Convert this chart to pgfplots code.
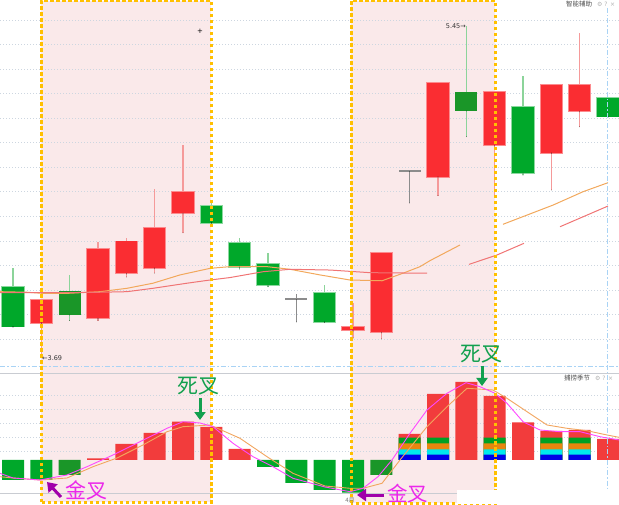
\documentclass[border=0pt]{standalone}
\usepackage{pgfplots}
\pgfplotsset{compat=1.18}
\usepackage{pgfplotstable}
\usepackage{fontspec}
\newfontfamily\cjk{Noto Sans CJK SC}
\newfontfamily\dv{DejaVu Sans}
\usetikzlibrary{arrows.meta}
\definecolor{candred}{HTML}{FA2D32}
\definecolor{wickred}{HTML}{F59A9A}
\definecolor{candgreen}{HTML}{00A82A}
\definecolor{candgreendk}{HTML}{1A9628}
\definecolor{wickgreen}{HTML}{8CD49A}
\definecolor{dojigray}{HTML}{8C8C8C}
\definecolor{pinkbg}{HTML}{FAE9EA}
\definecolor{bordc}{HTML}{FFC000}
\definecolor{gridc}{HTML}{CDD6E0}
\definecolor{maor}{HTML}{F2A85C}
\definecolor{mared}{HTML}{F07474}
\definecolor{barred}{HTML}{F23C3C}
\definecolor{bandgreen}{HTML}{00A024}
\definecolor{bandorange}{HTML}{E8860E}
\definecolor{bandcyan}{HTML}{00E8EC}
\definecolor{bandblue}{HTML}{0000E6}
\definecolor{linemag}{HTML}{FF48FF}
\definecolor{lineor}{HTML}{F2A55E}
\definecolor{crossgreen}{HTML}{12A04E}
\definecolor{crossmag}{HTML}{EB28EB}
\definecolor{arrowpurple}{HTML}{A000AA}
\definecolor{paneline}{HTML}{A9D3F5}
\definecolor{panegray}{HTML}{C9CCD2}

\pgfplotsset{
  candle/.style 2 args={only marks, mark=*, mark size=0.01pt, mark options={draw=none, fill=none},
    error bars/.cd, y dir=plus, y explicit, error mark=none,
    error bar style={line width=#1, draw=#2}},
}

% candles: i open high low close
\pgfplotstableread{
i o h l c
2 3.872 3.993 3.69 3.993
4 3.897 4.303 3.883 4.264
5 4.136 4.322 4.115 4.303
6 4.164 4.582 4.136 4.375
7 4.455 4.816 4.349 4.567
13 3.833 3.978 3.791 3.851
14 3.823 4.242 3.786 4.242
16 4.648 5.147 4.547 5.147
18 4.816 5.098 4.54 5.098
20 4.775 5.135 4.577 5.135
21 4.997 5.411 4.913 5.135
}\redc
\pgfplotstableread{
i o h l c
1 4.063 4.164 3.851 3.851
8 4.494 4.52 4.403 4.403
9 4.296 4.322 4.157 4.168
10 4.184 4.242 4.063 4.072
12 4.032 4.072 3.876 3.876
19 5.018 5.184 4.656 4.667
22 5.066 5.066 4.967 4.967
}\greenc
\pgfplotstableread{
i o h l c
3 4.042 4.126 3.883 3.913
17 5.098 5.45 4.860 4.997
}\greendkc
\pgfplotstableread{
i o h l c
11 3.998 4.025 3.876 3.998
15 4.678 4.678 4.508 4.678
}\dojic

% lower panel bars
\pgfplotstableread{
i v
1 -0.20
2 -0.20
10 -0.07
11 -0.23
12 -0.30
13 -0.327
}\bgreen
\pgfplotstableread{
i v
3 -0.15
14 -0.15
}\bgreendk
\pgfplotstableread{
i v
4 0.015
5 0.16
6 0.27
7 0.383
8 0.33
9 0.11
15 0.26
16 0.66
17 0.78
18 0.64
19 0.377
20 0.29
21 0.30
22 0.21
}\bred
\pgfplotstableread{
i g o c b
15 0.223 0.167 0.107 0.053
16 0.223 0.167 0.107 0.053
18 0.223 0.167 0.107 0.053
20 0.223 0.167 0.107 0.053
21 0.223 0.167 0.107 0.053
}\bands

\begin{document}
\begin{tikzpicture}
\useasboundingbox (0pt,0pt) rectangle (619pt,504pt);
% highlighted periods (background)
\fill[pinkbg] (41pt,2pt) rectangle (211pt,503pt);
\fill[pinkbg] (351pt,1pt) rectangle (495pt,503pt);

% ---------------- upper panel ----------------
\begin{axis}[at={(0pt,137pt)}, anchor=south west, scale only axis,
  width=619pt, height=367pt,
  xmin=0.5412, xmax=22.388, ymin=3.6369, ymax=5.5865,
  axis line style={draw=none}, xtick=\empty,
  ytick={3.7848,3.9152,4.0456,4.1761,4.3065,4.4369,4.5673,4.6977,4.8281,4.9586,5.0890,5.2194,5.3498,5.4802},
  yticklabels={}, major tick length=0pt, ymajorgrids,
  grid style={gridc, line width=0.9pt, dash pattern=on 1pt off 2pt}]
% wicks
\addplot[candle={1.3pt}{wickred}]
  table[x=i, y=l, y error expr={\thisrow{h}-\thisrow{l}}] {\redc};
\addplot[candle={1.3pt}{wickgreen}]
  table[x=i, y=l, y error expr={\thisrow{h}-\thisrow{l}}] {\greenc};
\addplot[candle={1.3pt}{wickgreen}]
  table[x=i, y=l, y error expr={\thisrow{h}-\thisrow{l}}] {\greendkc};
\addplot[candle={1.3pt}{dojigray}]
  table[x=i, y=l, y error expr={\thisrow{h}-\thisrow{l}}] {\dojic};
% body outlines
\addplot[candle={23.5pt}{candred!55!white}]
  table[x=i, y expr={min(\thisrow{o},\thisrow{c})-0.005}, y error expr={abs(\thisrow{c}-\thisrow{o})+0.01}] {\redc};
\addplot[candle={23.5pt}{candgreen!45!white}]
  table[x=i, y expr={min(\thisrow{o},\thisrow{c})-0.004}, y error expr={abs(\thisrow{c}-\thisrow{o})+0.008}] {\greenc};
% bodies
\addplot[candle={21.5pt}{candred}]
  table[x=i, y expr={min(\thisrow{o},\thisrow{c})-0.001}, y error expr={abs(\thisrow{c}-\thisrow{o})+0.002}] {\redc};
\addplot[candle={21.5pt}{candgreen}]
  table[x=i, y expr={min(\thisrow{o},\thisrow{c})}, y error expr={abs(\thisrow{c}-\thisrow{o})}] {\greenc};
\addplot[candle={22pt}{candgreendk}]
  table[x=i, y expr={min(\thisrow{o},\thisrow{c})}, y error expr={abs(\thisrow{c}-\thisrow{o})}] {\greendkc};
\addplot[candle={22pt}{dojigray}]
  table[x=i, y expr={\thisrow{o}-0.0035}, y error expr={0.007}] {\dojic};
% moving averages
\addplot[maor, line width=1pt] coordinates {(0.541,4.037) (1.494,4.034) (2.059,4.028) (2.906,4.028) (4.071,4.037) (5.024,4.055) (5.941,4.082) (6.894,4.126) (7.953,4.161) (8.659,4.170) (9.965,4.170) (10.776,4.156) (11.835,4.126) (12.894,4.099) (14.024,4.095) (14.765,4.135) (15.365,4.170) (15.718,4.202) (16.776,4.285)};
\addplot[maor, line width=1pt] coordinates {(18.294,4.395) (20.059,4.497) (21.118,4.568) (22.0,4.616)};
\addplot[mared, line width=1pt] coordinates {(0.541,4.032) (2.906,4.032) (4.071,4.034) (5.024,4.037) (5.941,4.055) (7.141,4.082) (7.953,4.099) (8.659,4.112) (9.824,4.143) (10.776,4.156) (12.188,4.152) (13.6,4.138) (15.612,4.135)};
\addplot[mared, line width=1pt] coordinates {(17.094,4.182) (18.082,4.232) (19.035,4.294)};
\addplot[mared, line width=1pt] coordinates {(20.306,4.382) (22.0,4.492)};
\end{axis}

% ---------------- lower panel ----------------
\begin{axis}[at={(0pt,0pt)}, anchor=south west, scale only axis,
  width=619pt, height=137pt,
  xmin=0.5412, xmax=22.388, ymin=-0.44, ymax=0.93,
  axis line style={draw=none}, xtick=\empty,
  ytick={0.082,0.224,0.366,0.508,0.65},
  yticklabels={}, major tick length=0pt, ymajorgrids,
  grid style={gridc, line width=0.9pt, dash pattern=on 1pt off 2pt}]
\addplot[ybar, bar width=22pt, bar shift=0pt, fill=candgreen, draw=none] table[x=i, y=v] {\bgreen};
\addplot[ybar, bar width=22pt, bar shift=0pt, fill=candgreendk, draw=none] table[x=i, y=v] {\bgreendk};
\addplot[ybar, bar width=22pt, bar shift=0pt, fill=barred, draw=none] table[x=i, y=v] {\bred};
\addplot[ybar, bar width=22pt, bar shift=0pt, fill=bandgreen, draw=none] table[x=i, y=g] {\bands};
\addplot[ybar, bar width=22pt, bar shift=0pt, fill=bandorange, draw=none] table[x=i, y=o] {\bands};
\addplot[ybar, bar width=22pt, bar shift=0pt, fill=bandcyan, draw=none] table[x=i, y=c] {\bands};
\addplot[ybar, bar width=22pt, bar shift=0pt, fill=bandblue, draw=none] table[x=i, y=b] {\bands};
\addplot[lineor, line width=0.9pt] coordinates {(0.541,-0.167) (1.0,-0.18) (1.953,-0.20) (2.906,-0.18) (3.824,-0.067) (4.671,0.02) (5.588,0.15) (6.435,0.283) (7.0,0.333) (7.953,0.35) (9.012,0.217) (9.965,0.033) (10.882,-0.133) (12.012,-0.26) (12.894,-0.283) (13.353,-0.283) (14.024,-0.233) (14.659,0.0) (15.612,0.333) (16.318,0.533) (17.024,0.717) (17.941,0.70) (18.435,0.617) (19.141,0.483) (19.847,0.35) (20.553,0.317) (21.259,0.293) (21.965,0.25) (22.388,0.227)};
\addplot[linemag, line width=0.9pt] coordinates {(0.541,-0.133) (1.0,-0.18) (1.953,-0.20) (2.906,-0.15) (3.612,-0.067) (4.529,0.05) (5.482,0.183) (6.435,0.317) (7.0,0.383) (7.6,0.37) (8.059,0.333) (8.765,0.167) (9.47,0.033) (10.176,-0.067) (10.882,-0.183) (12.012,-0.27) (12.894,-0.317) (13.353,-0.283) (13.882,-0.167) (14.376,0.0) (15.012,0.267) (15.612,0.50) (16.318,0.667) (16.988,0.773) (17.482,0.733) (18.012,0.667) (18.435,0.567) (19.0,0.383) (19.6,0.30) (20.306,0.283) (21.012,0.283) (21.718,0.233) (22.388,0.20)};
\end{axis}

% pane separators
\draw[paneline, line width=1.2pt, dash pattern=on 5pt off 2pt on 1.5pt off 2pt] (0pt,137.3pt) -- (619pt,137.3pt);
\draw[paneline, line width=1.2pt, dash pattern=on 5pt off 2pt on 1.5pt off 2pt] (607.5pt,496pt) -- (607.5pt,14pt);
\draw[panegray, line width=0.9pt] (0pt,131pt) -- (619pt,131pt);
\draw[panegray, line width=0.9pt] (0pt,11pt) -- (619pt,11pt);

% highlighted period borders
\draw[bordc, line width=3pt, dash pattern=on 3.5pt off 2.5pt] (41pt,2pt) rectangle (211pt,503pt);
\draw[bordc, line width=3pt, dash pattern=on 3.5pt off 2.5pt] (351pt,1pt) rectangle (495pt,503pt);
\fill[white] (457pt,0pt) rectangle (619pt,14pt);

% labels
\node[font=\cjk\fontsize{6.5}{6.5}\selectfont, text=black!70, anchor=west, inner sep=0pt] at (566pt,499.5pt) {智能辅助};
\node[font=\dv\fontsize{6}{6}\selectfont, text=black!30, anchor=west, inner sep=0pt] at (597pt,499.5pt) {⚙ ? ×};
\node[font=\cjk\fontsize{6.5}{6.5}\selectfont, text=black!70, anchor=west, inner sep=0pt] at (564pt,126pt) {捕捞季节};
\node[font=\dv\fontsize{6}{6}\selectfont, text=black!30, anchor=west, inner sep=0pt] at (595pt,126pt) {⚙ ? ×};
\node[font=\dv\fontsize{6.5}{6.5}\selectfont, text=black!80, anchor=east, inner sep=0pt] at (466pt,478pt) {5.45→};
\node[font=\dv\fontsize{6.5}{6.5}\selectfont, text=black!80, anchor=west, inner sep=0pt] at (42pt,146pt) {←3.69};
\node[font=\dv\fontsize{7}{7}\selectfont, text=black, inner sep=0pt] at (200pt,473pt) {+};
\node[font=\cjk\fontsize{6}{6}\selectfont, text=black!55, inner sep=0pt] at (350pt,4pt) {4月};

% crosses
\node[font=\cjk\fontsize{21}{21}\selectfont, text=crossgreen, inner sep=0pt] at (198pt,118pt) {死叉};
\draw[crossgreen, line width=3pt, -{Triangle[width=11pt,length=8pt]}] (200pt,106pt) -- (200pt,84pt);
\node[font=\cjk\fontsize{21}{21}\selectfont, text=crossgreen, inner sep=0pt] at (481.5pt,149.5pt) {死叉};
\draw[crossgreen, line width=3pt, -{Triangle[width=11pt,length=8pt]}] (482pt,138pt) -- (482pt,118pt);
\node[font=\cjk\fontsize{21}{21}\selectfont, text=crossmag, inner sep=0pt] at (86pt,13.5pt) {金叉};
\draw[arrowpurple, line width=3pt, -{Triangle[width=12pt,length=9pt]}] (61pt,7pt) -- (47pt,22pt);
\node[font=\cjk\fontsize{20.5}{20.5}\selectfont, text=crossmag, inner sep=0pt] at (407.5pt,10pt) {金叉};
\draw[arrowpurple, line width=3pt, -{Triangle[width=12pt,length=9pt]}] (384pt,9pt) -- (357pt,9pt);
\end{tikzpicture}
\end{document}
